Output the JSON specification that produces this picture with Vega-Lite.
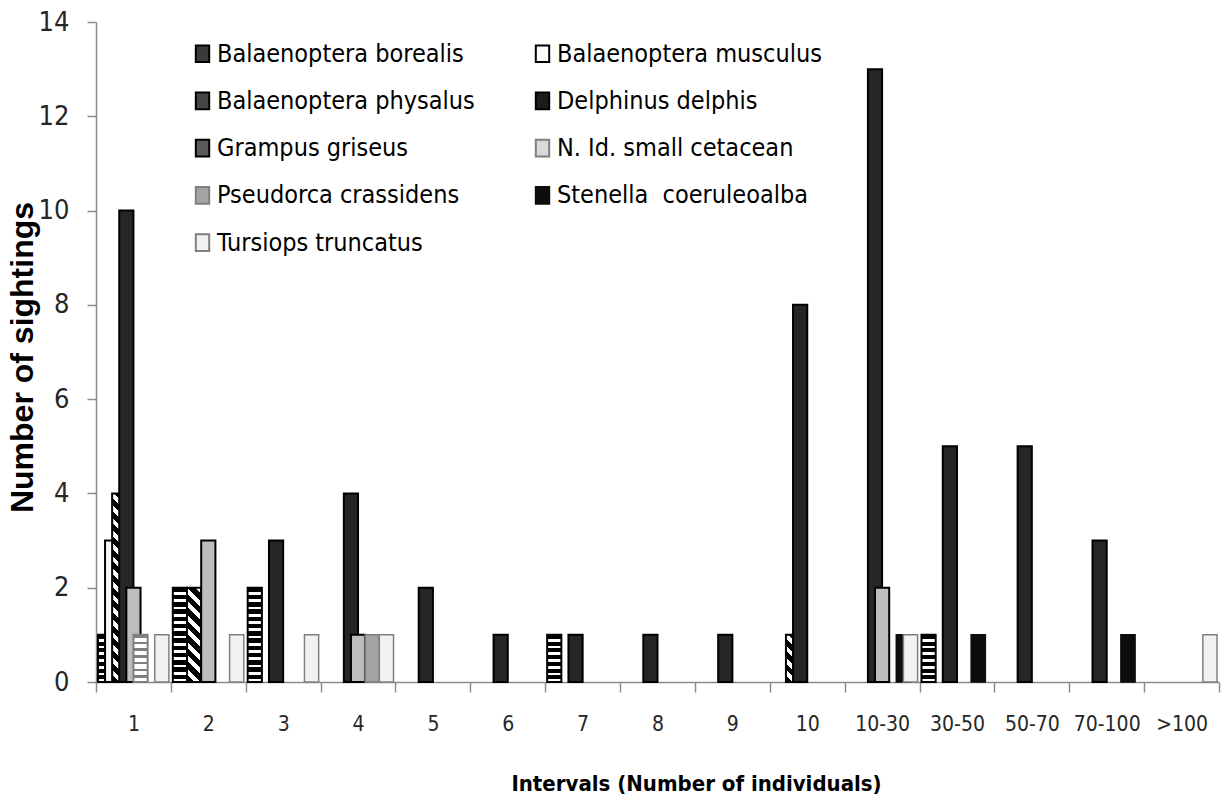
{
  "$schema": "https://vega.github.io/schema/vega-lite/v6.json",
  "autosize": "none",
  "padding": {"left": 96, "top": 22, "right": 5, "bottom": 124},
  "width": 1123,
  "height": 660,
  "background": "white",
  "config": {"view": {"stroke": null}},
  "data": {
    "values": [
      {"interval": "1", "species": "Balaenoptera borealis", "count": 1},
      {"interval": "2", "species": "Balaenoptera borealis", "count": 2},
      {"interval": "3", "species": "Balaenoptera borealis", "count": 2},
      {"interval": "7", "species": "Balaenoptera borealis", "count": 1},
      {"interval": "30-50", "species": "Balaenoptera borealis", "count": 1},
      {"interval": "1", "species": "Balaenoptera musculus", "count": 3},
      {"interval": "1", "species": "Balaenoptera physalus", "count": 4},
      {"interval": "2", "species": "Balaenoptera physalus", "count": 2},
      {"interval": "10", "species": "Balaenoptera physalus", "count": 1},
      {"interval": "1", "species": "Delphinus delphis", "count": 10},
      {"interval": "3", "species": "Delphinus delphis", "count": 3},
      {"interval": "4", "species": "Delphinus delphis", "count": 4},
      {"interval": "5", "species": "Delphinus delphis", "count": 2},
      {"interval": "6", "species": "Delphinus delphis", "count": 1},
      {"interval": "7", "species": "Delphinus delphis", "count": 1},
      {"interval": "8", "species": "Delphinus delphis", "count": 1},
      {"interval": "9", "species": "Delphinus delphis", "count": 1},
      {"interval": "10", "species": "Delphinus delphis", "count": 8},
      {"interval": "10-30", "species": "Delphinus delphis", "count": 13},
      {"interval": "30-50", "species": "Delphinus delphis", "count": 5},
      {"interval": "50-70", "species": "Delphinus delphis", "count": 5},
      {"interval": "70-100", "species": "Delphinus delphis", "count": 3},
      {"interval": "1", "species": "Grampus griseus", "count": 2},
      {"interval": "2", "species": "Grampus griseus", "count": 3},
      {"interval": "4", "species": "Grampus griseus", "count": 1},
      {"interval": "10-30", "species": "Grampus griseus", "count": 2},
      {"interval": "1", "species": "N. Id. small cetacean", "count": 1},
      {"interval": "4", "species": "Pseudorca crassidens", "count": 1},
      {"interval": "10-30", "species": "Stenella\u00a0 coeruleoalba", "count": 1},
      {"interval": "30-50", "species": "Stenella\u00a0 coeruleoalba", "count": 1},
      {"interval": "70-100", "species": "Stenella\u00a0 coeruleoalba", "count": 1},
      {"interval": "1", "species": "Tursiops truncatus", "count": 1},
      {"interval": "2", "species": "Tursiops truncatus", "count": 1},
      {"interval": "3", "species": "Tursiops truncatus", "count": 1},
      {"interval": "4", "species": "Tursiops truncatus", "count": 1},
      {"interval": "10-30", "species": "Tursiops truncatus", "count": 1},
      {"interval": ">100", "species": "Tursiops truncatus", "count": 1}
    ]
  },
  "encoding": {
    "x": {
      "field": "interval",
      "type": "nominal",
      "sort": ["1", "2", "3", "4", "5", "6", "7", "8", "9", "10", "10-30", "30-50", "50-70", "70-100", ">100"],
      "scale": {"domain": ["1", "2", "3", "4", "5", "6", "7", "8", "9", "10", "10-30", "30-50", "50-70", "70-100", ">100"], "paddingInner": 0, "paddingOuter": 0},
      "axis": {
        "title": "Intervals (Number of individuals)",
        "labelAngle": 0,
        "tickBand": "extent",
        "domainColor": "#8c8c8c",
        "domainWidth": 1.5,
        "tickColor": "#8c8c8c",
        "tickWidth": 1.5,
        "tickSize": 10,
        "labelFont": "DejaVu Sans Condensed, sans-serif",
        "labelFontSize": 21,
        "labelColor": "#262626",
        "labelPadding": 21,
        "titleFont": "DejaVu Sans Condensed, sans-serif",
        "titleFontSize": 22,
        "titleFontWeight": "bold",
        "titleColor": "#000000",
        "titleX": 600,
        "titleY": 101,
        "titleBaseline": "middle"
      }
    },
    "xOffset": {
      "field": "species",
      "type": "nominal",
      "scale": {
        "domain": ["Balaenoptera borealis", "Balaenoptera musculus", "Balaenoptera physalus", "Delphinus delphis", "Grampus griseus", "N. Id. small cetacean", "Pseudorca crassidens", "Stenella\u00a0 coeruleoalba", "Tursiops truncatus"],
        "paddingInner": 0,
        "paddingOuter": 0.775
      }
    },
    "y": {
      "field": "count",
      "type": "quantitative",
      "scale": {"domain": [0, 14]},
      "axis": {
        "title": "Number of sightings",
        "values": [0, 2, 4, 6, 8, 10, 12, 14],
        "grid": false,
        "domainColor": "#8c8c8c",
        "domainWidth": 1.5,
        "tickColor": "#8c8c8c",
        "tickWidth": 1.5,
        "tickSize": 9,
        "labelFont": "DejaVu Sans Condensed, sans-serif",
        "labelFontSize": 27,
        "labelColor": "#262626",
        "labelPadding": 18,
        "titleFont": "Liberation Sans, Arial, sans-serif",
        "titleFontSize": 32,
        "titleFontWeight": "bold",
        "titleColor": "#000000",
        "titleX": -74,
        "titleY": 335,
        "titleBaseline": "middle",
        "titleAngle": -90
      }
    }
  },
  "layer": [
    {
      "transform": [{"filter": "false"}],
      "mark": {"type": "square", "opacity": 1, "filled": true},
      "encoding": {
        "color": {
          "field": "species",
          "type": "nominal",
          "scale": {
            "domain": ["Balaenoptera borealis", "Balaenoptera musculus", "Balaenoptera physalus", "Delphinus delphis", "Grampus griseus", "N. Id. small cetacean", "Pseudorca crassidens", "Stenella\u00a0 coeruleoalba", "Tursiops truncatus"],
            "range": ["#3a3a3a", "#fbfbfb", "#454545", "#1c1c1c", "#5a5a5a", "#d9d9d9", "#a3a3a3", "#0d0d0d", "#f1f1f1"]
          },
          "legend": {
            "title": null,
            "orient": "none",
            "legendX": 94,
            "legendY": 19,
            "direction": "horizontal",
            "columns": 2,
            "columnPadding": 55,
            "rowPadding": 21.3,
            "padding": 0,
            "symbolType": "M-0.8,-1H0.8V1H-0.8Z",
            "symbolSize": 280,
            "symbolStrokeWidth": 2,
            "symbolOpacity": 1,
            "labelFont": "DejaVu Sans Condensed, sans-serif",
            "labelFontSize": 25,
            "labelColor": "#000000",
            "labelOffset": 2,
            "labelLimit": 400
          }
        },
        "stroke": {
          "field": "species",
          "type": "nominal",
          "scale": {
            "domain": ["Balaenoptera borealis", "Balaenoptera musculus", "Balaenoptera physalus", "Delphinus delphis", "Grampus griseus", "N. Id. small cetacean", "Pseudorca crassidens", "Stenella\u00a0 coeruleoalba", "Tursiops truncatus"],
            "range": ["#000000", "#000000", "#000000", "#000000", "#000000", "#7f7f7f", "#7f7f7f", "#0d0d0d", "#7f7f7f"]
          },
          "legend": {
            "title": null,
            "orient": "none",
            "legendX": 94,
            "legendY": 19,
            "direction": "horizontal",
            "columns": 2,
            "columnPadding": 55,
            "rowPadding": 21.3,
            "padding": 0,
            "symbolType": "M-0.8,-1H0.8V1H-0.8Z",
            "symbolSize": 280,
            "symbolStrokeWidth": 2,
            "symbolOpacity": 1,
            "labelFont": "DejaVu Sans Condensed, sans-serif",
            "labelFontSize": 25,
            "labelColor": "#000000",
            "labelOffset": 2,
            "labelLimit": 400
          }
        }
      }
    },
    {
      "transform": [{"filter": "datum.species == 'Balaenoptera borealis' && datum.count == 1"}],
      "mark": {
        "type": "bar", "width": 14.2, "stroke": "#000000", "strokeWidth": 2,
        "fill": {"gradient": "linear", "x1": 0, "y1": 0, "x2": 0, "y2": 1, "stops": [
          {"offset": 0, "color": "#000000"}, {"offset": 0.0857, "color": "#000000"}, {"offset": 0.0857, "color": "#ffffff"}, {"offset": 0.1429, "color": "#ffffff"},
          {"offset": 0.1429, "color": "#000000"}, {"offset": 0.2286, "color": "#000000"}, {"offset": 0.2286, "color": "#ffffff"}, {"offset": 0.2857, "color": "#ffffff"},
          {"offset": 0.2857, "color": "#000000"}, {"offset": 0.3714, "color": "#000000"}, {"offset": 0.3714, "color": "#ffffff"}, {"offset": 0.4286, "color": "#ffffff"},
          {"offset": 0.4286, "color": "#000000"}, {"offset": 0.5143, "color": "#000000"}, {"offset": 0.5143, "color": "#ffffff"}, {"offset": 0.5714, "color": "#ffffff"},
          {"offset": 0.5714, "color": "#000000"}, {"offset": 0.6571, "color": "#000000"}, {"offset": 0.6571, "color": "#ffffff"}, {"offset": 0.7143, "color": "#ffffff"},
          {"offset": 0.7143, "color": "#000000"}, {"offset": 0.8, "color": "#000000"}, {"offset": 0.8, "color": "#ffffff"}, {"offset": 0.8571, "color": "#ffffff"},
          {"offset": 0.8571, "color": "#000000"}, {"offset": 0.9429, "color": "#000000"}, {"offset": 0.9429, "color": "#ffffff"}, {"offset": 1, "color": "#ffffff"}
        ]}
      }
    },
    {
      "transform": [{"filter": "datum.species == 'Balaenoptera borealis' && datum.count == 2"}],
      "mark": {
        "type": "bar", "width": 14.2, "stroke": "#000000", "strokeWidth": 2,
        "fill": {"gradient": "linear", "x1": 0, "y1": 0, "x2": 0, "y2": 1, "stops": [
          {"offset": 0, "color": "#000000"}, {"offset": 0.0462, "color": "#000000"}, {"offset": 0.0462, "color": "#ffffff"}, {"offset": 0.0769, "color": "#ffffff"},
          {"offset": 0.0769, "color": "#000000"}, {"offset": 0.1231, "color": "#000000"}, {"offset": 0.1231, "color": "#ffffff"}, {"offset": 0.1538, "color": "#ffffff"},
          {"offset": 0.1538, "color": "#000000"}, {"offset": 0.2, "color": "#000000"}, {"offset": 0.2, "color": "#ffffff"}, {"offset": 0.2308, "color": "#ffffff"},
          {"offset": 0.2308, "color": "#000000"}, {"offset": 0.2769, "color": "#000000"}, {"offset": 0.2769, "color": "#ffffff"}, {"offset": 0.3077, "color": "#ffffff"},
          {"offset": 0.3077, "color": "#000000"}, {"offset": 0.3538, "color": "#000000"}, {"offset": 0.3538, "color": "#ffffff"}, {"offset": 0.3846, "color": "#ffffff"},
          {"offset": 0.3846, "color": "#000000"}, {"offset": 0.4308, "color": "#000000"}, {"offset": 0.4308, "color": "#ffffff"}, {"offset": 0.4615, "color": "#ffffff"},
          {"offset": 0.4615, "color": "#000000"}, {"offset": 0.5077, "color": "#000000"}, {"offset": 0.5077, "color": "#ffffff"}, {"offset": 0.5385, "color": "#ffffff"},
          {"offset": 0.5385, "color": "#000000"}, {"offset": 0.5846, "color": "#000000"}, {"offset": 0.5846, "color": "#ffffff"}, {"offset": 0.6154, "color": "#ffffff"},
          {"offset": 0.6154, "color": "#000000"}, {"offset": 0.6615, "color": "#000000"}, {"offset": 0.6615, "color": "#ffffff"}, {"offset": 0.6923, "color": "#ffffff"},
          {"offset": 0.6923, "color": "#000000"}, {"offset": 0.7385, "color": "#000000"}, {"offset": 0.7385, "color": "#ffffff"}, {"offset": 0.7692, "color": "#ffffff"},
          {"offset": 0.7692, "color": "#000000"}, {"offset": 0.8154, "color": "#000000"}, {"offset": 0.8154, "color": "#ffffff"}, {"offset": 0.8462, "color": "#ffffff"},
          {"offset": 0.8462, "color": "#000000"}, {"offset": 0.8923, "color": "#000000"}, {"offset": 0.8923, "color": "#ffffff"}, {"offset": 0.9231, "color": "#ffffff"},
          {"offset": 0.9231, "color": "#000000"}, {"offset": 0.9692, "color": "#000000"}, {"offset": 0.9692, "color": "#ffffff"}, {"offset": 1, "color": "#ffffff"}
        ]}
      }
    },
    {
      "transform": [{"filter": "datum.species == 'Balaenoptera musculus'"}],
      "mark": {"type": "bar", "width": 14.2, "stroke": "#000000", "strokeWidth": 2, "fill": "#f6f6f6"}
    },
    {
      "transform": [{"filter": "datum.species == 'Balaenoptera physalus' && datum.count == 1"}],
      "mark": {
        "type": "bar", "width": 14.2, "stroke": "#000000", "strokeWidth": 2,
        "fill": {"gradient": "linear", "x1": 0, "y1": 1, "x2": 0.3597, "y2": -0.1931, "stops": [
          {"offset": 0, "color": "#000000"}, {"offset": 0.11, "color": "#000000"}, {"offset": 0.11, "color": "#ffffff"}, {"offset": 0.2, "color": "#ffffff"},
          {"offset": 0.2, "color": "#000000"}, {"offset": 0.31, "color": "#000000"}, {"offset": 0.31, "color": "#ffffff"}, {"offset": 0.4, "color": "#ffffff"},
          {"offset": 0.4, "color": "#000000"}, {"offset": 0.51, "color": "#000000"}, {"offset": 0.51, "color": "#ffffff"}, {"offset": 0.6, "color": "#ffffff"},
          {"offset": 0.6, "color": "#000000"}, {"offset": 0.71, "color": "#000000"}, {"offset": 0.71, "color": "#ffffff"}, {"offset": 0.8, "color": "#ffffff"},
          {"offset": 0.8, "color": "#000000"}, {"offset": 0.91, "color": "#000000"}, {"offset": 0.91, "color": "#ffffff"}, {"offset": 1, "color": "#ffffff"}
        ]}
      }
    },
    {
      "transform": [{"filter": "datum.species == 'Balaenoptera physalus' && datum.count == 2"}],
      "mark": {
        "type": "bar", "width": 14.2, "stroke": "#000000", "strokeWidth": 2,
        "fill": {"gradient": "linear", "x1": 0, "y1": 1, "x2": 0.1694, "y2": -0.1251, "stops": [
          {"offset": 0, "color": "#000000"}, {"offset": 0.0688, "color": "#000000"}, {"offset": 0.0688, "color": "#ffffff"}, {"offset": 0.125, "color": "#ffffff"},
          {"offset": 0.125, "color": "#000000"}, {"offset": 0.1938, "color": "#000000"}, {"offset": 0.1938, "color": "#ffffff"}, {"offset": 0.25, "color": "#ffffff"},
          {"offset": 0.25, "color": "#000000"}, {"offset": 0.3188, "color": "#000000"}, {"offset": 0.3188, "color": "#ffffff"}, {"offset": 0.375, "color": "#ffffff"},
          {"offset": 0.375, "color": "#000000"}, {"offset": 0.4438, "color": "#000000"}, {"offset": 0.4438, "color": "#ffffff"}, {"offset": 0.5, "color": "#ffffff"},
          {"offset": 0.5, "color": "#000000"}, {"offset": 0.5688, "color": "#000000"}, {"offset": 0.5688, "color": "#ffffff"}, {"offset": 0.625, "color": "#ffffff"},
          {"offset": 0.625, "color": "#000000"}, {"offset": 0.6938, "color": "#000000"}, {"offset": 0.6938, "color": "#ffffff"}, {"offset": 0.75, "color": "#ffffff"},
          {"offset": 0.75, "color": "#000000"}, {"offset": 0.8188, "color": "#000000"}, {"offset": 0.8188, "color": "#ffffff"}, {"offset": 0.875, "color": "#ffffff"},
          {"offset": 0.875, "color": "#000000"}, {"offset": 0.9438, "color": "#000000"}, {"offset": 0.9438, "color": "#ffffff"}, {"offset": 1, "color": "#ffffff"}
        ]}
      }
    },
    {
      "transform": [{"filter": "datum.species == 'Balaenoptera physalus' && datum.count == 4"}],
      "mark": {
        "type": "bar", "width": 14.2, "stroke": "#000000", "strokeWidth": 2,
        "fill": {"gradient": "linear", "x1": 0, "y1": 1, "x2": 0.0805, "y2": -0.0692, "stops": [
          {"offset": 0, "color": "#000000"}, {"offset": 0.0344, "color": "#000000"}, {"offset": 0.0344, "color": "#ffffff"}, {"offset": 0.0625, "color": "#ffffff"},
          {"offset": 0.0625, "color": "#000000"}, {"offset": 0.0969, "color": "#000000"}, {"offset": 0.0969, "color": "#ffffff"}, {"offset": 0.125, "color": "#ffffff"},
          {"offset": 0.125, "color": "#000000"}, {"offset": 0.1594, "color": "#000000"}, {"offset": 0.1594, "color": "#ffffff"}, {"offset": 0.1875, "color": "#ffffff"},
          {"offset": 0.1875, "color": "#000000"}, {"offset": 0.2219, "color": "#000000"}, {"offset": 0.2219, "color": "#ffffff"}, {"offset": 0.25, "color": "#ffffff"},
          {"offset": 0.25, "color": "#000000"}, {"offset": 0.2844, "color": "#000000"}, {"offset": 0.2844, "color": "#ffffff"}, {"offset": 0.3125, "color": "#ffffff"},
          {"offset": 0.3125, "color": "#000000"}, {"offset": 0.3469, "color": "#000000"}, {"offset": 0.3469, "color": "#ffffff"}, {"offset": 0.375, "color": "#ffffff"},
          {"offset": 0.375, "color": "#000000"}, {"offset": 0.4094, "color": "#000000"}, {"offset": 0.4094, "color": "#ffffff"}, {"offset": 0.4375, "color": "#ffffff"},
          {"offset": 0.4375, "color": "#000000"}, {"offset": 0.4719, "color": "#000000"}, {"offset": 0.4719, "color": "#ffffff"}, {"offset": 0.5, "color": "#ffffff"},
          {"offset": 0.5, "color": "#000000"}, {"offset": 0.5344, "color": "#000000"}, {"offset": 0.5344, "color": "#ffffff"}, {"offset": 0.5625, "color": "#ffffff"},
          {"offset": 0.5625, "color": "#000000"}, {"offset": 0.5969, "color": "#000000"}, {"offset": 0.5969, "color": "#ffffff"}, {"offset": 0.625, "color": "#ffffff"},
          {"offset": 0.625, "color": "#000000"}, {"offset": 0.6594, "color": "#000000"}, {"offset": 0.6594, "color": "#ffffff"}, {"offset": 0.6875, "color": "#ffffff"},
          {"offset": 0.6875, "color": "#000000"}, {"offset": 0.7219, "color": "#000000"}, {"offset": 0.7219, "color": "#ffffff"}, {"offset": 0.75, "color": "#ffffff"},
          {"offset": 0.75, "color": "#000000"}, {"offset": 0.7844, "color": "#000000"}, {"offset": 0.7844, "color": "#ffffff"}, {"offset": 0.8125, "color": "#ffffff"},
          {"offset": 0.8125, "color": "#000000"}, {"offset": 0.8469, "color": "#000000"}, {"offset": 0.8469, "color": "#ffffff"}, {"offset": 0.875, "color": "#ffffff"},
          {"offset": 0.875, "color": "#000000"}, {"offset": 0.9094, "color": "#000000"}, {"offset": 0.9094, "color": "#ffffff"}, {"offset": 0.9375, "color": "#ffffff"},
          {"offset": 0.9375, "color": "#000000"}, {"offset": 0.9719, "color": "#000000"}, {"offset": 0.9719, "color": "#ffffff"}, {"offset": 1, "color": "#ffffff"}
        ]}
      }
    },
    {
      "transform": [{"filter": "datum.species == 'Delphinus delphis'"}],
      "mark": {"type": "bar", "width": 14.2, "stroke": "#000000", "strokeWidth": 2, "fill": "#262626"}
    },
    {
      "transform": [{"filter": "datum.species == 'Grampus griseus'"}],
      "mark": {"type": "bar", "width": 14.2, "stroke": "#000000", "strokeWidth": 2, "fill": "#bdbdbd"}
    },
    {
      "transform": [{"filter": "datum.species == 'N. Id. small cetacean'"}],
      "mark": {
        "type": "bar", "width": 14.2, "stroke": "#7f7f7f", "strokeWidth": 2,
        "fill": {"gradient": "linear", "x1": 0, "y1": 0, "x2": 0, "y2": 1, "stops": [
          {"offset": 0, "color": "#808080"}, {"offset": 0.0571, "color": "#808080"}, {"offset": 0.0571, "color": "#ffffff"}, {"offset": 0.1429, "color": "#ffffff"},
          {"offset": 0.1429, "color": "#808080"}, {"offset": 0.2, "color": "#808080"}, {"offset": 0.2, "color": "#ffffff"}, {"offset": 0.2857, "color": "#ffffff"},
          {"offset": 0.2857, "color": "#808080"}, {"offset": 0.3429, "color": "#808080"}, {"offset": 0.3429, "color": "#ffffff"}, {"offset": 0.4286, "color": "#ffffff"},
          {"offset": 0.4286, "color": "#808080"}, {"offset": 0.4857, "color": "#808080"}, {"offset": 0.4857, "color": "#ffffff"}, {"offset": 0.5714, "color": "#ffffff"},
          {"offset": 0.5714, "color": "#808080"}, {"offset": 0.6286, "color": "#808080"}, {"offset": 0.6286, "color": "#ffffff"}, {"offset": 0.7143, "color": "#ffffff"},
          {"offset": 0.7143, "color": "#808080"}, {"offset": 0.7714, "color": "#808080"}, {"offset": 0.7714, "color": "#ffffff"}, {"offset": 0.8571, "color": "#ffffff"},
          {"offset": 0.8571, "color": "#808080"}, {"offset": 0.9143, "color": "#808080"}, {"offset": 0.9143, "color": "#ffffff"}, {"offset": 1, "color": "#ffffff"}
        ]}
      }
    },
    {
      "transform": [{"filter": "datum.species == 'Pseudorca crassidens'"}],
      "mark": {"type": "bar", "width": 14.2, "stroke": "#7f7f7f", "strokeWidth": 1.5, "fill": "#a3a3a3"}
    },
    {
      "transform": [{"filter": "datum.species == 'Stenella\u00a0 coeruleoalba'"}],
      "mark": {"type": "bar", "width": 14.2, "stroke": "#0d0d0d", "strokeWidth": 1.5, "fill": "#0d0d0d"}
    },
    {
      "transform": [{"filter": "datum.species == 'Tursiops truncatus'"}],
      "mark": {"type": "bar", "width": 14.2, "stroke": "#808080", "strokeWidth": 1.5, "fill": "#f2f2f2"}
    }
  ]
}
